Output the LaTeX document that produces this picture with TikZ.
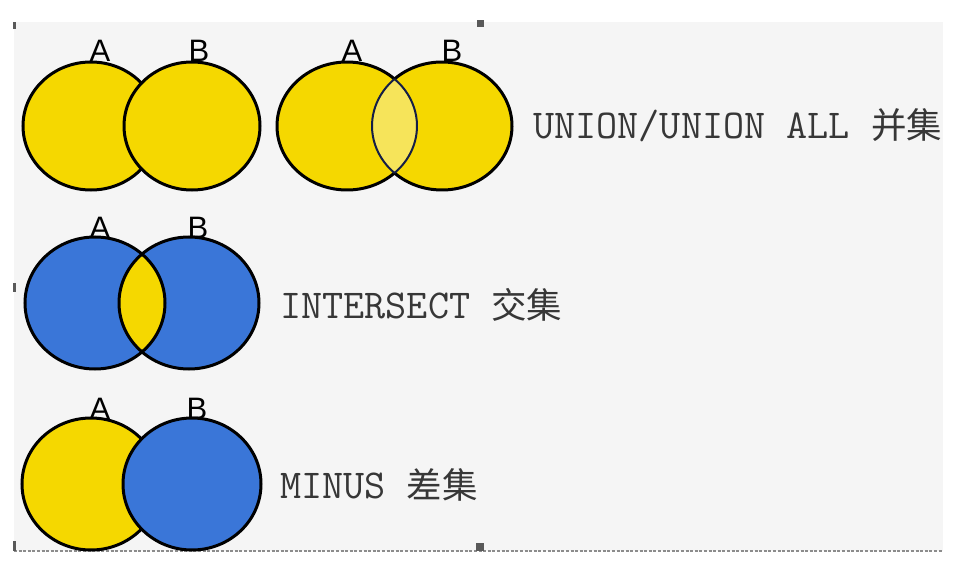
\documentclass[tikz,border=0pt]{standalone}
\usepackage{fontspec}
\setmainfont{Liberation Sans}
\setsansfont{Liberation Sans}
\newfontfamily\cjk{Noto Sans CJK SC}
\usetikzlibrary{calc}
\definecolor{vyellow}{RGB}{245,216,0}
\definecolor{vlight}{RGB}{246,228,90}
\definecolor{vblue}{RGB}{58,118,216}
\definecolor{bggray}{RGB}{245,245,245}
\definecolor{txtgray}{RGB}{55,55,55}
\definecolor{navyline}{RGB}{20,30,70}
\newcommand{\cjkpart}[1]{{\cjk\fontsize{35.5}{40}\selectfont #1}}
\begin{document}
\begin{tikzpicture}[x=1pt,y=-1pt,
  setlabel/.style={font=\fontsize{31}{31}\selectfont\sffamily, anchor=base, inner sep=0pt, text=black},
  opname/.style={font=\fontsize{41}{44}\selectfont\ttfamily, anchor=base west, inner sep=0pt, text=txtgray},
  outline/.style={draw=black, line width=3pt},
  handle/.style={fill=black!65, draw=none}]
\useasboundingbox (0,0) rectangle (974,580);
\fill[white] (0,0) rectangle (974,580);
\fill[bggray] (14,22) rectangle (943,551);
\draw[black!45, line width=1.4pt, dash pattern=on 3pt off 1.6pt] (14,551) -- (943,551);
\fill[handle] (477,20) rectangle (484,27);
\fill[handle] (476,543) rectangle (484,551);
\fill[handle] (13,22) rectangle (16,29);
\fill[handle] (13,283) rectangle (16,292);
\fill[handle] (13,541) rectangle (16,551);

% ---------- row 1, pair 1 (union) ----------
\node[setlabel] (la1) at (100,62) {A};
\node[setlabel] (lb1) at (199,62) {B};
\coordinate (ua1) at (91,126);
\coordinate (ub1) at (192,126);
\filldraw[fill=vyellow, outline] (ua1) ellipse [x radius=68pt, y radius=64pt];
\filldraw[fill=vyellow, outline] (ub1) ellipse [x radius=68pt, y radius=64pt];

% ---------- row 1, pair 2 (union all) ----------
\node[setlabel] (la2) at (352,62) {A};
\node[setlabel] (lb2) at (452,62) {B};
\coordinate (ua2) at (347,126);
\coordinate (ub2) at (442,126);
\fill[vyellow] (ua2) ellipse [x radius=70pt, y radius=64pt];
\fill[vyellow] (ub2) ellipse [x radius=70pt, y radius=64pt];
\begin{scope}
  \clip (ua2) ellipse [x radius=70pt, y radius=64pt];
  \fill[vlight] (ub2) ellipse [x radius=70pt, y radius=64pt];
\end{scope}
\draw[outline] ($(ua2)+(47.3:70pt and 64pt)$) arc[start angle=47.3, end angle=312.7, x radius=70pt, y radius=64pt];
\draw[outline] ($(ub2)+(-132.7:70pt and 64pt)$) arc[start angle=-132.7, end angle=132.7, x radius=70pt, y radius=64pt];
\draw[navyline, line width=2pt] ($(ua2)+(-47.3:70pt and 64pt)$) arc[start angle=-47.3, end angle=47.3, x radius=70pt, y radius=64pt];
\draw[navyline, line width=2pt] ($(ub2)+(132.7:70pt and 64pt)$) arc[start angle=132.7, end angle=227.3, x radius=70pt, y radius=64pt];
\node[opname] (t1) at (533,139) {UNION/UNION ALL \cjkpart{并集}};

% ---------- row 2 (intersect) ----------
\node[setlabel] (la3) at (100,238) {A};
\node[setlabel] (lb3) at (198,238) {B};
\coordinate (ia) at (95,303);
\coordinate (ib) at (189,303);
\fill[vblue] (ia) ellipse [x radius=70pt, y radius=66pt];
\fill[vblue] (ib) ellipse [x radius=70pt, y radius=66pt];
\begin{scope}
  \clip (ia) ellipse [x radius=70pt, y radius=66pt];
  \fill[vyellow] (ib) ellipse [x radius=70pt, y radius=66pt];
\end{scope}
\draw[outline] (ia) ellipse [x radius=70pt, y radius=66pt];
\draw[outline] (ib) ellipse [x radius=70pt, y radius=66pt];
\node[opname] (t2) at (280,318) {INTERSECT \cjkpart{交集}};

% ---------- row 3 (minus) ----------
\node[setlabel] (la4) at (100,419) {A};
\node[setlabel] (lb4) at (197,419) {B};
\coordinate (ma) at (91,484);
\coordinate (mb) at (192,484);
\filldraw[fill=vyellow, outline] (ma) ellipse [x radius=69pt, y radius=66pt];
\filldraw[fill=vblue, outline] (mb) ellipse [x radius=69pt, y radius=66pt];
\node[opname] (t3) at (280,498) {MINUS \cjkpart{差集}};
\end{tikzpicture}
\end{document}
